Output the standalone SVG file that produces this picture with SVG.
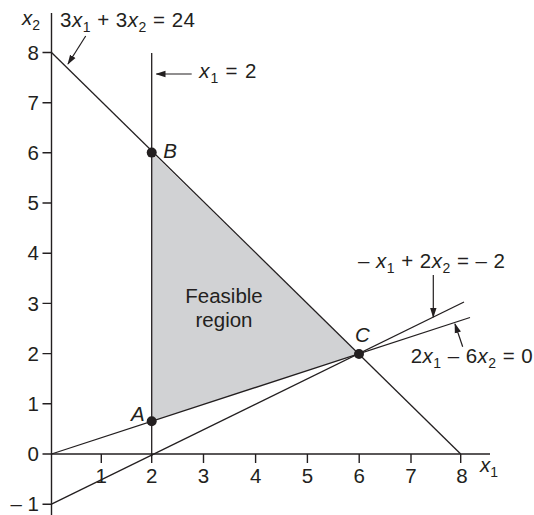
<svg xmlns="http://www.w3.org/2000/svg" width="534" height="515" viewBox="0 0 534 515">
<defs>
<marker id="ah" markerWidth="10" markerHeight="8" refX="9" refY="4" orient="auto" markerUnits="userSpaceOnUse">
<path d="M0,0.8 L10,4 L0,7.2 Z" fill="#231f20"/>
</marker>
<style>
text{font-family:"Liberation Sans",Arial,sans-serif;font-size:20.5px;fill:#231f20}
.i{font-style:italic}
.s{font-size:14px}
.ln{stroke:#231f20;stroke-width:1.3;fill:none}
.ax{stroke:#231f20;stroke-width:1.4;fill:none}
.ar{stroke:#231f20;stroke-width:1.2;fill:none;marker-end:url(#ah)}
.pt{fill:#231f20}
</style>
</defs>
<rect width="534" height="515" fill="#fff"/>
<g id="region">
<polygon points="151.7,421.2 151.7,152.6 359,354" fill="#d1d2d4"/>
<text x="224" y="303" text-anchor="middle">Feasible</text>
<text x="224" y="327" text-anchor="middle">region</text>
</g>
<g id="axes">
<line class="ax" x1="51.5" y1="13" x2="51.5" y2="515"/>
<line class="ax" x1="51.5" y1="454" x2="490" y2="454"/>
<path class="ax" d="M42.5,52.5H51.5M42.5,102.7H51.5M42.5,152.8H51.5M42.5,203H51.5M42.5,253.2H51.5M42.5,303.4H51.5M42.5,353.6H51.5M42.5,403.8H51.5M42.5,454H51.5M42.5,504.2H51.5"/>
<path class="ax" d="M101.3,454V463M151.7,454V463M203.5,454V463M255.6,454V463M307.4,454V463M359.2,454V463M411,454V463M460.7,454V463"/>
<g text-anchor="end">
<text x="39" y="59.7">8</text>
<text x="39" y="109.9">7</text>
<text x="39" y="160">6</text>
<text x="39" y="210.2">5</text>
<text x="39" y="260.4">4</text>
<text x="39" y="310.6">3</text>
<text x="39" y="360.8">2</text>
<text x="39" y="411">1</text>
<text x="39" y="461.2">0</text>
<text x="39" y="511.4">– 1</text>
</g>
<g text-anchor="middle">
<text x="101.3" y="483">1</text>
<text x="151.7" y="483">2</text>
<text x="203.5" y="483">3</text>
<text x="255.6" y="483">4</text>
<text x="307.4" y="483">5</text>
<text x="359.2" y="483">6</text>
<text x="411" y="483">7</text>
<text x="462" y="483">8</text>
</g>
<text x="480" y="472"><tspan class="i">x</tspan><tspan class="s" dy="5">1</tspan></text>
<text x="22" y="25"><tspan class="i">x</tspan><tspan class="s" dy="5">2</tspan></text>
</g>
<g id="connectors">
<line class="ln" x1="51.5" y1="52.5" x2="460.7" y2="454"/>
<line class="ln" x1="151.7" y1="53" x2="151.7" y2="456"/>
<line class="ln" x1="51.5" y1="454" x2="470" y2="317.5"/>
<line class="ln" x1="51.5" y1="504.2" x2="464" y2="302"/>
<line class="ar" x1="85.7" y1="36" x2="68" y2="64"/>
<line class="ar" x1="191.7" y1="74" x2="156.5" y2="74"/>
<line class="ar" x1="433.3" y1="275" x2="433.3" y2="317"/>
<line class="ar" x1="462.7" y1="346.7" x2="455" y2="324"/>
</g>
<g id="points">
<circle class="pt" cx="151.7" cy="152.6" r="5"/>
<circle class="pt" cx="151.7" cy="421.2" r="5"/>
<circle class="pt" cx="359" cy="354" r="5"/>
<text class="i" x="163.3" y="158">B</text>
<text class="i" x="131" y="421">A</text>
<text class="i" x="355" y="342">C</text>
</g>
<g id="labels">
<text x="60" y="27" textLength="135" lengthAdjust="spacing">3<tspan class="i">x</tspan><tspan class="s" dy="5">1</tspan><tspan dy="-5"> + 3</tspan><tspan class="i">x</tspan><tspan class="s" dy="5">2</tspan><tspan dy="-5"> = 24</tspan></text>
<text x="199.3" y="77.5" textLength="57" lengthAdjust="spacing"><tspan class="i">x</tspan><tspan class="s" dy="5">1</tspan><tspan dy="-5"> = 2</tspan></text>
<text x="358" y="268.3" textLength="147" lengthAdjust="spacing">– <tspan class="i">x</tspan><tspan class="s" dy="5">1</tspan><tspan dy="-5"> + 2</tspan><tspan class="i">x</tspan><tspan class="s" dy="5">2</tspan><tspan dy="-5"> = – 2</tspan></text>
<text x="410.7" y="363.3" textLength="122" lengthAdjust="spacing">2<tspan class="i">x</tspan><tspan class="s" dy="5">1</tspan><tspan dy="-5"> – 6</tspan><tspan class="i">x</tspan><tspan class="s" dy="5">2</tspan><tspan dy="-5"> = 0</tspan></text>
</g>
</svg>
